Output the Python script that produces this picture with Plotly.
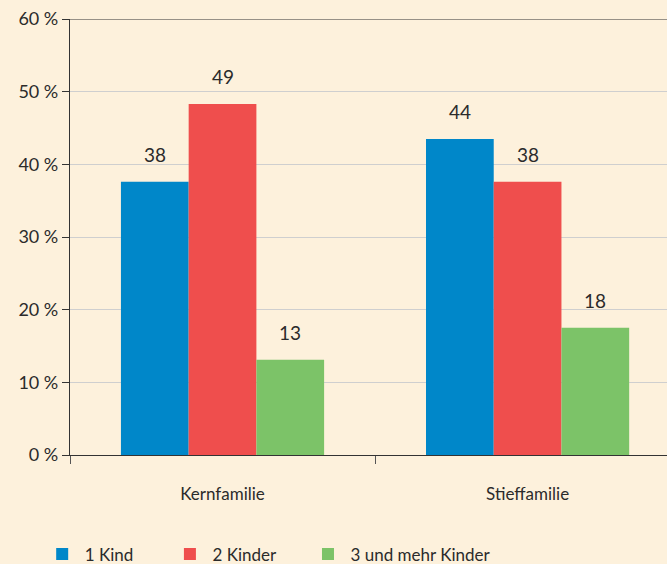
import plotly.graph_objects as go

categories = ["Kernfamilie", "Stieffamilie"]
series_names = ["1 Kind", "2 Kinder", "3 und mehr Kinder"]
values_1_kind = [37.6, 43.5]
values_2_kinder = [48.3, 37.6]
values_3_mehr = [13.1, 17.5]
labels_1_kind = ["38", "44"]
labels_2_kinder = ["49", "38"]
labels_3_mehr = ["13", "18"]
y_tickvals = [0, 10, 20, 30, 40, 50, 60]
y_ticktext = ["0 %", "10 %", "20 %", "30 %", "40 %", "50 %", "60 %"]

colors = ["#0087c9", "#ef4e4d", "#7cc368"]
BG = "#fdf1dc"
TXT = "#2b2b2b"
FONT = "Lato"

all_values = [values_1_kind, values_2_kinder, values_3_mehr]
all_labels = [labels_1_kind, labels_2_kinder, labels_3_mehr]
legend_ids = ["legend", "legend2", "legend3"]
legend_x = [0.0595, 0.251, 0.458]

bargap = 0.334
fig = go.Figure()
for name, vals, col, lid in zip(series_names, all_values, colors, legend_ids):
    fig.add_trace(go.Bar(x=categories, y=vals, name=name, legend=lid, showlegend=True,
                         marker=dict(color=col, line=dict(width=0))))

n = len(series_names)
bw = (1 - bargap) / n
annotations = []
for j, (vals, labs) in enumerate(zip(all_values, all_labels)):
    for i, (v, lab) in enumerate(zip(vals, labs)):
        annotations.append(dict(
            x=i + (j - (n - 1) / 2) * bw, y=v, xref="x", yref="y",
            text=lab, showarrow=False, yanchor="bottom", yshift=14,
            font=dict(family=FONT, size=19, color=TXT)))

legend_common = dict(orientation="h", xref="container", yref="container", y=0.049,
                     xanchor="left", yanchor="top", itemwidth=35,
                     font=dict(size=17, color=TXT), bgcolor="rgba(0,0,0,0)")
legends = {lid: dict(legend_common, x=lx) for lid, lx in zip(legend_ids, legend_x)}

fig.update_layout(
    width=667, height=564,
    showlegend=True,
    margin=dict(l=70, r=0, t=19, b=109, autoexpand=False),
    paper_bgcolor=BG, plot_bgcolor=BG,
    barmode="group", bargap=bargap, bargroupgap=0,
    font=dict(family=FONT, size=17, color=TXT),
    annotations=annotations,
    xaxis=dict(type="category", range=[-0.5, 1.457], showline=True, linecolor="#333333", linewidth=1.2,
               ticks="outside", tickson="boundaries", ticklen=8, tickcolor="#555555",
               ticklabelstandoff=23, showgrid=False, zeroline=False),
    yaxis=dict(range=[0, 60], tickvals=y_tickvals, ticktext=y_ticktext, showline=True,
               linecolor="#333333", linewidth=1.2, ticks="outside", ticklen=7, tickcolor="#333333",
               tickfont=dict(size=18),
               gridcolor="#cfcfcf", gridwidth=1.2, zeroline=False),
    shapes=[dict(type="line", xref="paper", yref="y", x0=0, x1=1, y0=60, y1=60,
                 line=dict(color="#333333", width=1.2))],
    **legends,
)

fig.write_html(
    "out.html",
    config={"displayModeBar": False},
    post_script="document.body.style.margin='0';document.body.style.padding='0';"
                "document.body.style.overflow='hidden';"
                "document.documentElement.style.overflow='hidden';"
                "document.body.style.background='" + BG + "';",
)
